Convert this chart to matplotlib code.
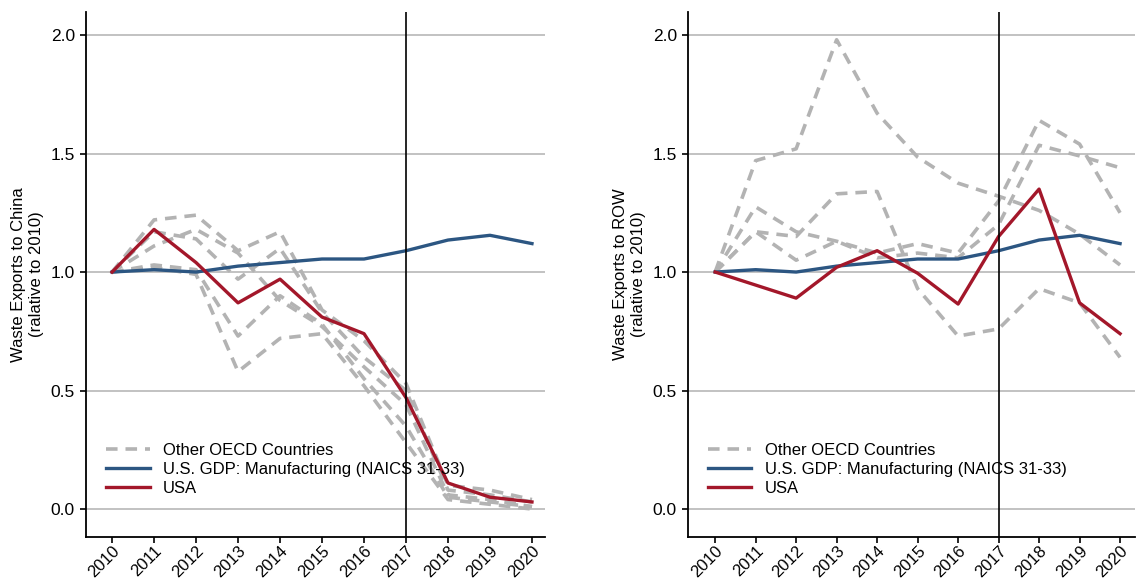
import matplotlib
matplotlib.use("Agg")
import matplotlib.pyplot as plt

plt.rcParams['font.family'] = ['Liberation Sans', 'DejaVu Sans']

years = list(range(2010, 2021))
tick_labels = [str(y) for y in years]

# U.S. GDP manufacturing (same in both panels)
gdp = [1.00, 1.01, 1.00, 1.025, 1.04, 1.055, 1.055, 1.09, 1.135, 1.155, 1.12]

# Left panel: exports to China
usa_china = [1.00, 1.18, 1.04, 0.87, 0.97, 0.81, 0.74, 0.47, 0.11, 0.05, 0.03]
oecd_china = [
    [1.00, 1.22, 1.24, 1.09, 1.17, 0.84, 0.71, 0.53, 0.10, 0.08, 0.04],
    [1.00, 1.17, 1.14, 0.97, 1.10, 0.83, 0.64, 0.50, 0.08, 0.06, 0.03],
    [1.00, 1.11, 1.18, 1.08, 0.88, 0.77, 0.60, 0.44, 0.06, 0.04, 0.01],
    [1.00, 1.03, 1.01, 0.73, 0.90, 0.78, 0.55, 0.35, 0.05, 0.03, 0.01],
    [1.00, 1.02, 0.99, 0.58, 0.72, 0.74, 0.52, 0.28, 0.04, 0.02, 0.00],
]

# Right panel: exports to rest of world
usa_row = [1.00, 0.945, 0.89, 1.02, 1.09, 0.995, 0.865, 1.15, 1.35, 0.87, 0.74]
oecd_row = [
    [1.00, 1.47, 1.52, 1.98, 1.67, 1.485, 1.375, 1.32, 1.26, 1.16, 1.03],
    [1.00, 1.17, 1.15, 1.33, 1.34, 0.93, 0.73, 0.76, 0.93, 0.87, 0.64],
    [1.00, 1.275, 1.17, 1.13, 1.08, 1.12, 1.08, 1.30, 1.64, 1.54, 1.25],
    [1.00, 1.17, 1.05, 1.13, 1.06, 1.08, 1.06, 1.20, 1.535, 1.49, 1.44],
]

gray = '#b3b3b3'
blue = '#2c5682'
red = '#a3172a'

fig = plt.figure(figsize=(11.38, 5.79), dpi=100)
ax1 = fig.add_axes([0.0756, 0.0725, 0.4033, 0.9067])
ax2 = fig.add_axes([0.6046, 0.0725, 0.3928, 0.9067])


def draw(ax, oecd, usa, ylabel, xlim):
    ax.set_axisbelow(True)
    ax.grid(axis='y', color='#b8b8b8', linewidth=1.2)
    for i, s in enumerate(oecd):
        ax.plot(years, s, color=gray, linestyle=(0, (3.2, 2.2)), linewidth=2.6,
                label='Other OECD Countries' if i == 0 else None, zorder=2)
    ax.plot(years, gdp, color=blue, linewidth=2.4,
            label='U.S. GDP: Manufacturing (NAICS 31-33)', zorder=3)
    ax.plot(years, usa, color=red, linewidth=2.4, label='USA', zorder=4)
    ax.axvline(2017, color='black', linewidth=1.2, zorder=5)
    ax.set_xlim(*xlim)
    ax.set_ylim(-0.118, 2.097)
    ax.set_yticks([0, 0.5, 1.0, 1.5, 2.0])
    ax.set_yticklabels(['0.0', '0.5', '1.0', '1.5', '2.0'])
    ax.set_xticks(years)
    ax.set_xticklabels(tick_labels, rotation=45, ha='right', rotation_mode='anchor')
    ax.tick_params(labelsize=12.5, width=1.2, color='black')
    ax.tick_params(axis='x', labelsize=12, length=4, pad=0.5)
    ax.tick_params(axis='y', length=4, pad=4)
    for side in ['top', 'right']:
        ax.spines[side].set_visible(False)
    for side in ['left', 'bottom']:
        ax.spines[side].set_linewidth(1.3)
    ax.set_ylabel(ylabel, fontsize=12, labelpad=5)
    ax.legend(loc='lower left', bbox_to_anchor=(0.03, 0.065), frameon=False,
              fontsize=12, handlelength=2.6, labelspacing=0.25, borderaxespad=0)


draw(ax1, oecd_china, usa_china, 'Waste Exports to China\n(ralative to 2010)', (2009.38, 2020.31))
draw(ax2, oecd_row, usa_row, 'Waste Exports to ROW\n(ralative to 2010)', (2009.33, 2020.37))

fig.savefig('out.png', dpi=100)
